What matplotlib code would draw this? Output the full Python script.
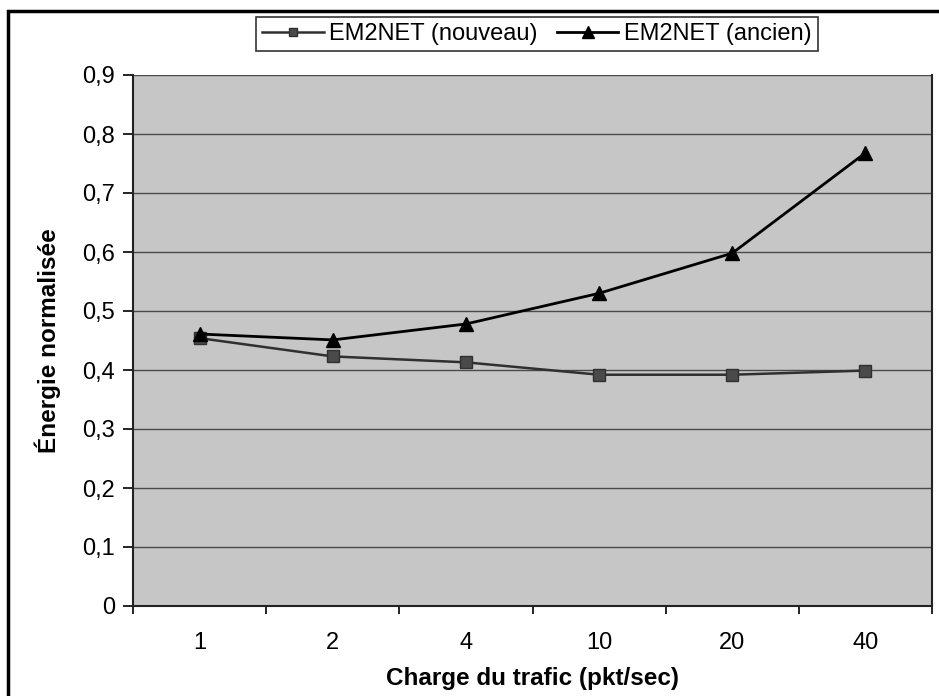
import matplotlib.pyplot as plt
from matplotlib.patches import Rectangle
from matplotlib.ticker import FixedLocator, FuncFormatter

plt.rcParams['font.family'] = ['Liberation Sans', 'DejaVu Sans']

# data
charges = ['1', '2', '4', '10', '20', '40']
nouveau = [0.454, 0.423, 0.413, 0.392, 0.392, 0.399]
ancien = [0.461, 0.451, 0.478, 0.530, 0.598, 0.768]
y_ticks = [0.0, 0.1, 0.2, 0.3, 0.4, 0.5, 0.6, 0.7, 0.8, 0.9]


def draw_chart():
    fig = plt.figure(figsize=(9.39, 6.96), dpi=100)
    ax = fig.add_axes([133 / 939, 1 - 606 / 696, (932 - 133) / 939, (606 - 75) / 696])

    # outer frame, only left and top edges fall inside the picture
    frame = Rectangle((8 / 939, -0.2), 1.2, 1.2 - 11 / 696,
                      transform=fig.transFigure, fill=False,
                      edgecolor='black', linewidth=2.5, clip_on=False)
    fig.patches.append(frame)

    x = list(range(len(charges)))
    ax.set_facecolor('#c6c6c6')
    ax.plot(x, nouveau, color='#303030', linewidth=1.8, marker='s',
            markersize=8, markerfacecolor='#4a4a4a', markeredgecolor='#303030',
            label='EM2NET (nouveau)', zorder=3)
    ax.plot(x, ancien, color='black', linewidth=2.0, marker='^',
            markersize=10, markerfacecolor='black', markeredgecolor='black',
            label='EM2NET (ancien)', zorder=4)

    ax.set_xlim(-0.5, len(charges) - 0.5)
    ax.set_ylim(0, 0.9)
    ax.set_yticks(y_ticks)
    ax.yaxis.set_major_formatter(FuncFormatter(lambda v, p: '0' if v == 0 else f'{v:.1f}'.replace('.', ',')))
    ax.set_xticks(x)
    ax.set_xticklabels(charges)
    ax.xaxis.set_minor_locator(FixedLocator([i - 0.5 for i in range(len(charges) + 1)]))
    ax.tick_params(axis='x', which='major', length=0, pad=19, labelsize=17)
    ax.tick_params(axis='x', which='minor', length=6, width=1.2, direction='out')
    ax.tick_params(axis='y', length=7, width=1.2, direction='out', pad=6, labelsize=17)

    ax.grid(axis='y', color='#4a4a4a', linewidth=1.0)
    ax.set_axisbelow(True)
    for side in ['left', 'bottom', 'right']:
        ax.spines[side].set_linewidth(1.5)
        ax.spines[side].set_color('#222222')
    ax.spines['top'].set_visible(False)

    ax.set_xlabel('Charge du trafic (pkt/sec)', fontsize=17.5, fontweight='bold', labelpad=9)
    ax.set_ylabel('Énergie normalisée', fontsize=17.5, fontweight='bold', labelpad=15)

    leg = fig.legend(loc='center', bbox_to_anchor=(537 / 939, 1 - 34 / 696), ncol=2,
                     fontsize=17, frameon=True, fancybox=False, edgecolor='black',
                     handlelength=2.6, handletextpad=0.25, columnspacing=0.8,
                     borderpad=0.25, markerscale=0.8)
    leg.get_frame().set_linewidth(1.2)

    fig.savefig('out.png', dpi=100)


if __name__ == "__main__":
    draw_chart()
